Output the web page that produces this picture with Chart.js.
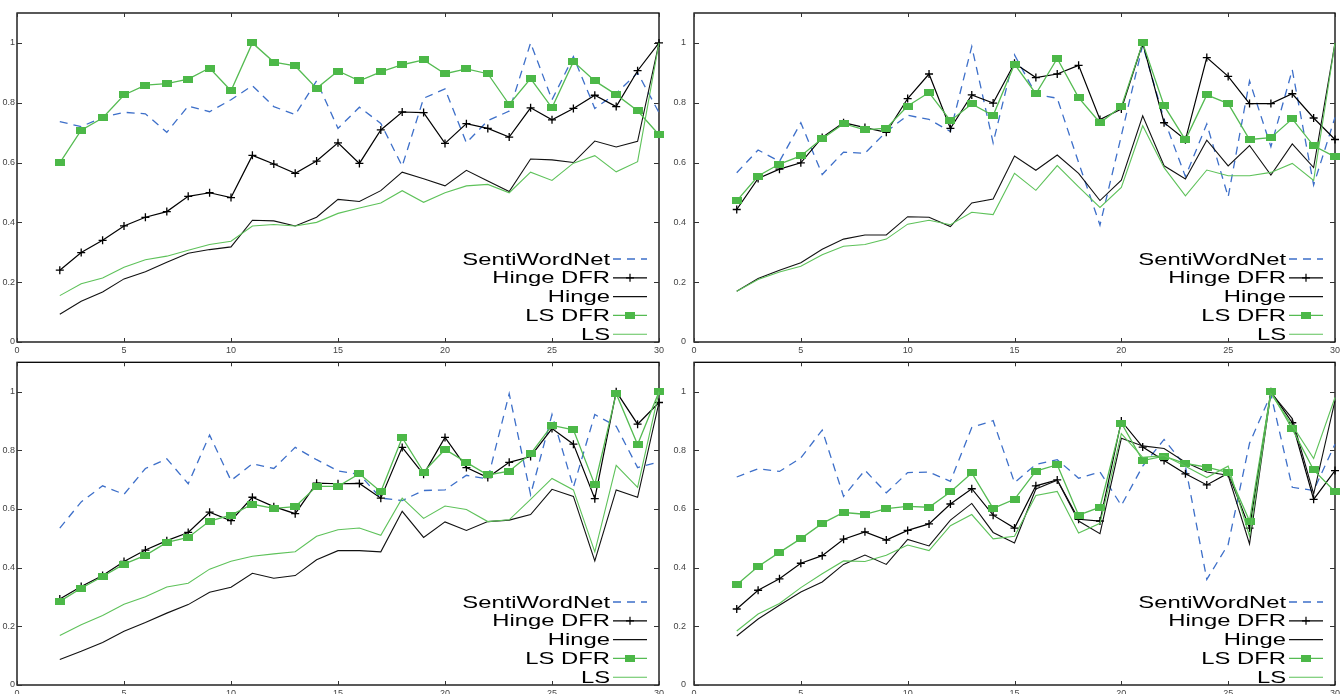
<!DOCTYPE html>
<html lang="en">
<head>
  <meta charset="utf-8">
  <title>SentiWordNet vs Hinge / LS (DFR)</title>
  <style>
    body {
      margin: 0;
      background: #fff;
    }
    canvas {
      position: absolute;
    }
  </style>
</head>
<body>
  <canvas id="tl" width="671" height="356" style="left:0;top:0"></canvas>
  <canvas id="tr" width="672" height="356" style="left:671px;top:0"></canvas>
  <canvas id="bl" width="671" height="338" style="left:0;top:356px"></canvas>
  <canvas id="br" width="672" height="338" style="left:671px;top:356px"></canvas>

  <script src="https://cdn.jsdelivr.net/npm/chart.js@4.4.0/dist/chart.umd.min.js"></script>
  <script>
    // x values shared by every panel
    var xs = [2, 3, 4, 5, 6, 7, 8, 9, 10, 11, 12, 13, 14, 15, 16, 17, 18, 19, 20, 21, 22, 23, 24, 25, 26, 27, 28, 29, 30];
    var seriesNames = ['SentiWordNet', 'Hinge DFR', 'Hinge', 'LS DFR', 'LS'];
    var xTicks = [0, 5, 10, 15, 20, 25, 30];
    var yTicks = [0, 0.2, 0.4, 0.6, 0.8, 1];

    // top left panel
    var tlSenti = [0.737, 0.72, 0.751, 0.768, 0.763, 0.701, 0.789, 0.770, 0.81, 0.857, 0.787, 0.760, 0.873, 0.714, 0.785, 0.731, 0.588, 0.815, 0.846, 0.666, 0.74, 0.772, 1.0, 0.81, 0.954, 0.781, 0.831, 0.90, 0.767];
    var tlHingeDfr = [0.240, 0.299, 0.340, 0.388, 0.417, 0.436, 0.487, 0.499, 0.483, 0.624, 0.595, 0.564, 0.605, 0.666, 0.597, 0.709, 0.769, 0.767, 0.664, 0.730, 0.714, 0.685, 0.783, 0.743, 0.781, 0.825, 0.787, 0.907, 1.0];
    var tlHinge = [0.093, 0.136, 0.167, 0.211, 0.235, 0.267, 0.297, 0.309, 0.318, 0.407, 0.405, 0.388, 0.417, 0.477, 0.470, 0.506, 0.568, 0.546, 0.522, 0.574, 0.538, 0.503, 0.612, 0.609, 0.600, 0.672, 0.652, 0.671, 1.0];
    var tlLsDfr = [0.599, 0.708, 0.749, 0.826, 0.859, 0.864, 0.879, 0.916, 0.840, 1.0, 0.936, 0.923, 0.848, 0.906, 0.873, 0.903, 0.927, 0.943, 0.897, 0.913, 0.897, 0.794, 0.881, 0.783, 0.9375, 0.873, 0.827, 0.773, 0.693];
    var tlLs = [0.155, 0.195, 0.214, 0.25, 0.275, 0.287, 0.307, 0.326, 0.337, 0.388, 0.393, 0.388, 0.40, 0.43, 0.448, 0.465, 0.506, 0.467, 0.499, 0.522, 0.527, 0.499, 0.568, 0.540, 0.598, 0.623, 0.569, 0.603, 1.0];

    // top right panel
    var trSenti = [0.566, 0.642, 0.604, 0.733, 0.560, 0.635, 0.631, 0.703, 0.758, 0.744, 0.704, 0.988, 0.666, 0.960, 0.828, 0.815, 0.60, 0.391, 0.69, 0.993, 0.745, 0.553, 0.729, 0.485, 0.873, 0.653, 0.91, 0.525, 0.751];
    var trHingeDfr = [0.443, 0.547, 0.578, 0.599, 0.684, 0.733, 0.717, 0.701, 0.814, 0.896, 0.714, 0.826, 0.799, 0.932, 0.884, 0.896, 0.925, 0.744, 0.779, 0.999, 0.733, 0.676, 0.951, 0.888, 0.797, 0.797, 0.830, 0.749, 0.677];
    var trHinge = [0.170, 0.212, 0.240, 0.265, 0.310, 0.344, 0.358, 0.358, 0.419, 0.417, 0.386, 0.465, 0.478, 0.622, 0.574, 0.625, 0.564, 0.473, 0.541, 0.756, 0.589, 0.545, 0.675, 0.589, 0.657, 0.558, 0.662, 0.583, 1.0];
    var trLsDfr = [0.472, 0.555, 0.595, 0.622, 0.680, 0.730, 0.709, 0.715, 0.789, 0.834, 0.740, 0.796, 0.757, 0.929, 0.830, 0.948, 0.817, 0.733, 0.787, 1.0, 0.790, 0.676, 0.826, 0.797, 0.677, 0.683, 0.746, 0.656, 0.619];
    var trLs = [0.170, 0.209, 0.234, 0.253, 0.292, 0.320, 0.326, 0.344, 0.394, 0.407, 0.392, 0.434, 0.426, 0.564, 0.507, 0.590, 0.519, 0.450, 0.517, 0.723, 0.583, 0.489, 0.575, 0.556, 0.556, 0.567, 0.597, 0.540, 1.0];

    // bottom left panel
    var blSenti = [0.535, 0.624, 0.679, 0.650, 0.738, 0.771, 0.686, 0.852, 0.697, 0.754, 0.738, 0.810, 0.768, 0.73, 0.718, 0.637, 0.629, 0.663, 0.665, 0.715, 0.702, 0.993, 0.649, 0.922, 0.674, 0.922, 0.882, 0.741, 0.761];
    var blHingeDfr = [0.293, 0.336, 0.373, 0.421, 0.460, 0.492, 0.520, 0.589, 0.560, 0.640, 0.608, 0.584, 0.688, 0.686, 0.687, 0.637, 0.810, 0.718, 0.844, 0.741, 0.707, 0.759, 0.779, 0.874, 0.821, 0.635, 1.0, 0.889, 0.963];
    var blHinge = [0.087, 0.115, 0.145, 0.183, 0.213, 0.245, 0.274, 0.316, 0.333, 0.381, 0.364, 0.373, 0.427, 0.458, 0.458, 0.454, 0.592, 0.503, 0.556, 0.527, 0.557, 0.562, 0.581, 0.667, 0.643, 0.423, 0.665, 0.640, 0.963];
    var blLsDfr = [0.285, 0.330, 0.370, 0.412, 0.442, 0.486, 0.503, 0.559, 0.579, 0.616, 0.602, 0.608, 0.677, 0.677, 0.720, 0.659, 0.843, 0.726, 0.803, 0.759, 0.716, 0.729, 0.788, 0.885, 0.870, 0.683, 0.993, 0.820, 1.0];
    var blLs = [0.169, 0.205, 0.237, 0.275, 0.301, 0.334, 0.347, 0.395, 0.422, 0.439, 0.447, 0.454, 0.507, 0.529, 0.535, 0.510, 0.637, 0.568, 0.610, 0.598, 0.557, 0.563, 0.633, 0.704, 0.665, 0.454, 0.749, 0.674, 1.0];

    // bottom right panel
    var brSenti = [0.709, 0.737, 0.728, 0.774, 0.869, 0.643, 0.732, 0.655, 0.724, 0.726, 0.694, 0.878, 0.901, 0.690, 0.752, 0.768, 0.705, 0.726, 0.612, 0.746, 0.837, 0.746, 0.360, 0.479, 0.824, 0.991, 0.674, 0.663, 0.821];
    var brHingeDfr = [0.259, 0.323, 0.362, 0.415, 0.441, 0.497, 0.522, 0.494, 0.527, 0.549, 0.617, 0.669, 0.579, 0.535, 0.679, 0.699, 0.565, 0.559, 0.900, 0.811, 0.765, 0.720, 0.682, 0.722, 0.535, 1.0, 0.894, 0.633, 0.731];
    var brHinge = [0.167, 0.225, 0.272, 0.317, 0.351, 0.411, 0.443, 0.411, 0.496, 0.474, 0.562, 0.619, 0.520, 0.484, 0.668, 0.698, 0.559, 0.516, 0.841, 0.815, 0.806, 0.759, 0.726, 0.715, 0.481, 0.997, 0.908, 0.651, 0.969];
    var brLsDfr = [0.342, 0.404, 0.452, 0.499, 0.551, 0.588, 0.582, 0.601, 0.609, 0.606, 0.658, 0.723, 0.602, 0.633, 0.729, 0.751, 0.579, 0.606, 0.893, 0.765, 0.780, 0.755, 0.743, 0.724, 0.559, 1.0, 0.873, 0.733, 0.659];
    var brLs = [0.184, 0.242, 0.278, 0.332, 0.379, 0.423, 0.421, 0.442, 0.477, 0.458, 0.543, 0.581, 0.498, 0.507, 0.646, 0.660, 0.518, 0.551, 0.857, 0.776, 0.782, 0.746, 0.707, 0.746, 0.507, 0.993, 0.885, 0.772, 0.980];

    // green square marker (the gnuplot one is a bit wider than tall)
    var squareMark = document.createElement('canvas');
    squareMark.width = 10;
    squareMark.height = 7;
    var sq = squareMark.getContext('2d');
    sq.fillStyle = '#4cb848';
    sq.fillRect(0, 0, 10, 7);

    function points(values) {
      return values.map(function (v, i) { return { x: xs[i], y: v }; });
    }

    function buildDatasets(senti, hingeDfr, hinge, lsDfr, ls) {
      return [
        { label: seriesNames[0], data: points(senti), order: 5, borderColor: '#3d6fc9', borderWidth: 1.3, borderDash: [8, 6], pointRadius: 0 },
        { label: seriesNames[1], data: points(hingeDfr), order: 4, borderColor: '#000', borderWidth: 1.2, pointStyle: 'cross', pointRadius: 4, pointBorderWidth: 1.3, pointBorderColor: '#000' },
        { label: seriesNames[2], data: points(hinge), order: 3, borderColor: '#111', borderWidth: 1.1, pointRadius: 0 },
        { label: seriesNames[3], data: points(lsDfr), order: 2, borderColor: '#55bb52', borderWidth: 1.3, pointStyle: squareMark, pointRadius: 5 },
        { label: seriesNames[4], data: points(ls), order: 1, borderColor: '#5ec25a', borderWidth: 1.1, pointRadius: 0 }
      ];
    }

    // the axes should not push the plot area around
    function noScalePadding(s) {
      s.paddingTop = 0;
      s.paddingBottom = 0;
      s.paddingLeft = 0;
      s.paddingRight = 0;
    }

    // box round the plot, with inward ticks on all four sides
    var framePlugin = {
      id: 'frame',
      beforeDatasetsDraw: function (chart) {
        var ctx = chart.ctx, a = chart.chartArea;
        var sx = chart.scales.x, sy = chart.scales.y;
        ctx.save();
        ctx.strokeStyle = '#000';
        ctx.lineWidth = 1.3;
        ctx.strokeRect(a.left, a.top, a.right - a.left, a.bottom - a.top);
        ctx.lineWidth = 1;
        ctx.strokeStyle = '#333';
        ctx.beginPath();
        sx.ticks.forEach(function (t) {
          var px = Math.round(sx.getPixelForValue(t.value)) + 0.5;
          ctx.moveTo(px, a.bottom); ctx.lineTo(px, a.bottom - 4);
          ctx.moveTo(px, a.top); ctx.lineTo(px, a.top + 4);
        });
        sy.ticks.forEach(function (t) {
          var py = Math.round(sy.getPixelForValue(t.value)) + 0.5;
          ctx.moveTo(a.left, py); ctx.lineTo(a.left + 5, py);
          ctx.moveTo(a.right, py); ctx.lineTo(a.right - 5, py);
        });
        ctx.stroke();
        ctx.restore();
      }
    };

    // gnuplot style key: right aligned text, sample line to its right
    var keyPlugin = {
      id: 'key',
      afterDraw: function (chart) {
        var ctx = chart.ctx, a = chart.chartArea;
        var right = a.right - 12, left = right - 34;
        chart.data.datasets.forEach(function (ds, i) {
          var y = a.bottom - 83 + i * 18.8;
          ctx.save();
          ctx.translate(left - 3, y);
          ctx.scale(1.4, 1);
          ctx.font = '17px "Liberation Sans", Arial, sans-serif';
          ctx.textAlign = 'right';
          ctx.textBaseline = 'middle';
          ctx.fillStyle = '#000';
          ctx.fillText(ds.label, 0, 1);
          ctx.restore();

          ctx.save();
          ctx.strokeStyle = ds.borderColor;
          ctx.lineWidth = ds.borderWidth;
          ctx.setLineDash(ds.borderDash || []);
          ctx.beginPath();
          ctx.moveTo(left, y);
          ctx.lineTo(right, y);
          ctx.stroke();
          ctx.setLineDash([]);
          if (ds.pointRadius) {
            ctx.strokeStyle = ds.pointBorderColor || ds.borderColor;
            Chart.helpers.drawPoint(ctx, {
              pointStyle: ds.pointStyle,
              radius: ds.pointRadius,
              rotation: 0,
              borderWidth: ds.pointBorderWidth || 1
            }, (left + right) / 2, y);
          }
          ctx.restore();
        });
      }
    };

    function makeChart(id, datasets, yWidth, yPad, padRight, padTop, xHeight) {
      var ctx = document.getElementById(id).getContext('2d');
      return new Chart(ctx, {
        type: 'line',
        data: { datasets: datasets },
        options: {
          responsive: false,
          animation: false,
          events: [],
          clip: false,
          elements: { line: { tension: 0, fill: false } },
          layout: { padding: { left: 0, right: padRight, top: padTop, bottom: 0 } },
          plugins: {
            legend: { display: false },
            tooltip: { enabled: false }
          },
          scales: {
            x: {
              type: 'linear',
              min: 0,
              max: 30,
              grid: { display: false, drawTicks: false },
              border: { display: false },
              afterBuildTicks: function (s) { s.ticks = xTicks.map(function (v) { return { value: v }; }); },
              afterFit: function (s) { s.height = xHeight; noScalePadding(s); },
              ticks: {
                padding: 3,
                maxRotation: 0,
                color: '#444',
                font: { family: 'Liberation Sans', size: 9 }
              }
            },
            y: {
              min: 0,
              max: 1.1,
              grid: { display: false, drawTicks: false },
              border: { display: false },
              afterBuildTicks: function (s) { s.ticks = yTicks.map(function (v) { return { value: v }; }); },
              afterFit: function (s) { s.width = yWidth; noScalePadding(s); },
              ticks: {
                padding: yPad,
                color: '#444',
                font: { family: 'Liberation Sans', size: 9 },
                callback: function (v) { return String(Number(v.toFixed(1))); }
              }
            }
          }
        },
        plugins: [framePlugin, keyPlugin]
      });
    }

    makeChart('tl', buildDatasets(tlSenti, tlHingeDfr, tlHinge, tlLsDfr, tlLs), 17, 2, 12, 13, 14);
    makeChart('tr', buildDatasets(trSenti, trHingeDfr, trHinge, trLsDfr, trLs), 23, 8, 8, 13, 14);
    makeChart('bl', buildDatasets(blSenti, blHingeDfr, blHinge, blLsDfr, blLs), 17, 2, 12, 0, 9);
    makeChart('br', buildDatasets(brSenti, brHingeDfr, brHinge, brLsDfr, brLs), 23, 8, 8, 0, 9);
  </script>
</body>
</html>
